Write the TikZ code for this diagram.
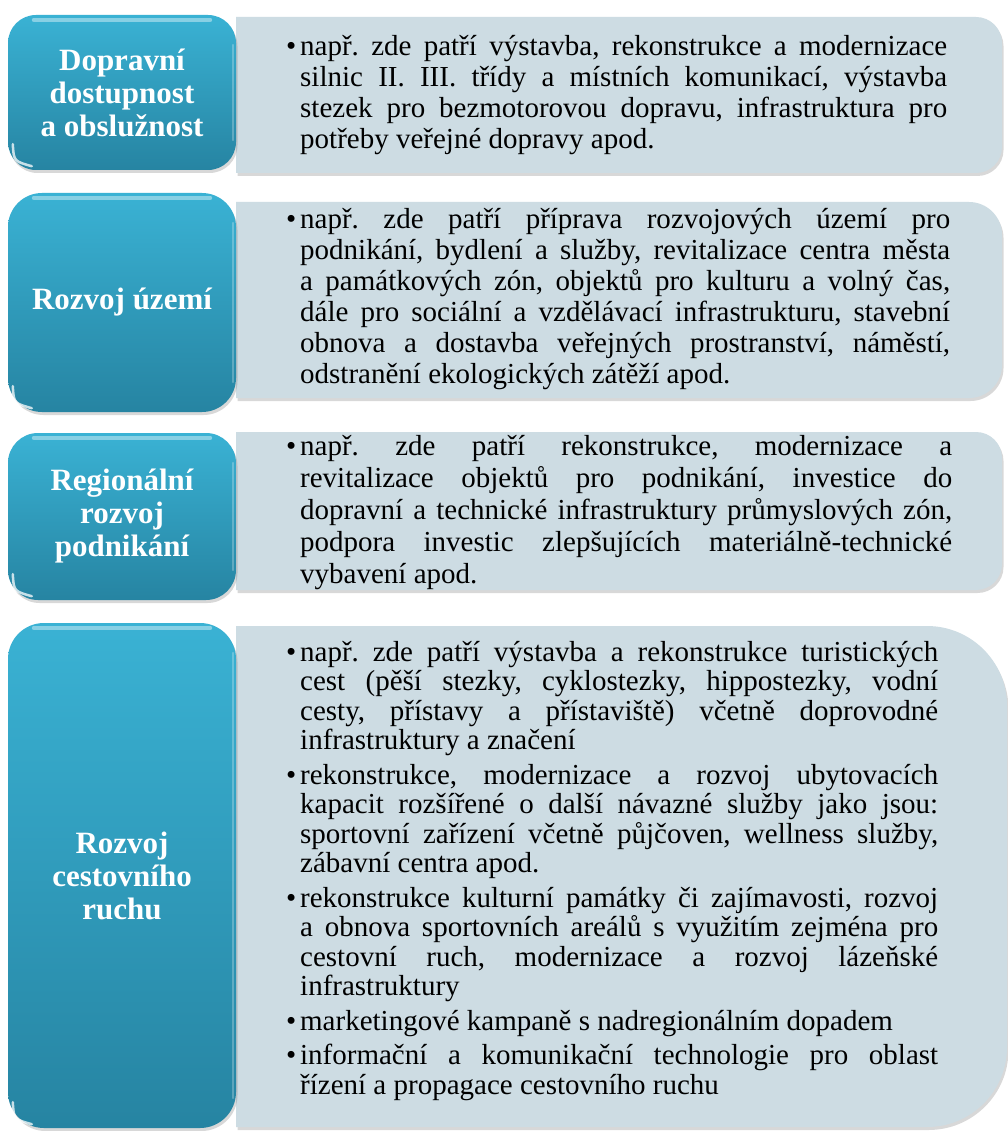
\documentclass[tikz,border=0pt]{standalone}
\usepackage{fontspec}
\setmainfont{Liberation Serif}
\usetikzlibrary{shadows}
\definecolor{tealtop}{RGB}{58,178,212}
\definecolor{tealbot}{RGB}{38,132,162}
\definecolor{panelc}{RGB}{205,220,227}
\newcommand\lb{\linebreak}
\newcommand\bodyset{\frenchspacing\tolerance=10000 \hbadness=10000 \hyphenpenalty=10000 \exhyphenpenalty=10000 \noindent}
\newcommand\bul{\llap{•\hspace{4pt}}}
\newcommand\tealgloss[1]{%
  \draw[gloss] ([xshift=26pt,yshift=-5pt]#1.north west) -- ([xshift=-26pt,yshift=-5pt]#1.north east);
  \draw[gloss, opacity=.25, line width=2pt] ([xshift=-3pt,yshift=-30pt]#1.north east) -- ([xshift=-3pt,yshift=30pt]#1.south east);
  \draw[gloss, opacity=.75, line width=2.5pt] ([xshift=5pt,yshift=26pt]#1.south west) .. controls ([xshift=6pt,yshift=9pt]#1.south west) .. ([xshift=24pt,yshift=4pt]#1.south west);
}
\begin{document}
\begin{tikzpicture}[x=1pt,y=-1pt,
  tealbox/.style={top color=tealtop, bottom color=tealbot, minimum width=228pt, inner sep=0pt,
    text=white, align=center, font=\bfseries\fontsize{31}{33}\selectfont,
    drop shadow={opacity=0.3,shadow xshift=1.5pt,shadow yshift=-3pt}},
  panel/.style={fill=panelc, drop shadow={opacity=0.3,shadow xshift=1.5pt,shadow yshift=-3pt}},
  bodytext/.style={anchor=west, inner sep=0pt, align=justify, font=\fontsize{29}{31}\selectfont},
  gloss/.style={white, opacity=0.4, line width=4pt, line cap=round},
]
\useasboundingbox (0,0) rectangle (1008,1131);
\fill[white] (0,0) rectangle (1008,1131);

% right panels
\path[panel] (236,17) [rounded corners=26pt] -- (1002,17) -- (1002,173) [sharp corners] -- (236,173) -- cycle;
\path[panel] (236,202) [rounded corners=33pt] -- (1002,202) -- (1002,398) [sharp corners] -- (236,398) -- cycle;
\path[panel] (236,432) [rounded corners=26pt] -- (1002,432) -- (1002,590) [sharp corners] -- (236,590) -- cycle;
\path[panel] (236,626) [rounded corners=80pt] -- (1007,626) -- (1007,1127) [sharp corners] -- (236,1127) -- cycle;

% left labels
\node[tealbox, minimum height=155pt, rounded corners=28pt] (t1) at (122,92.5) {Dopravní\\dostupnost\\a obslužnost};
\tealgloss{t1}
\node[tealbox, minimum height=219pt, rounded corners=34pt] (t2) at (122,302.5) {Rozvoj území};
\tealgloss{t2}
\node[tealbox, minimum height=167pt, rounded corners=30pt] (t3) at (122,516.5) {Regionální\\rozvoj\\podnikání};
\tealgloss{t3}
\node[tealbox, minimum height=505pt, rounded corners=36pt] (t4) at (122,875.5) {Rozvoj\\cestovního\\ruchu};
\tealgloss{t4}

% body texts
\node[bodytext, text width=647pt] (b1) at (300,95) {\bodyset\bul
např. zde patří výstavba, rekonstrukce a modernizace\lb
silnic II. III. třídy a místních komunikací, výstavba\lb
stezek pro bezmotorovou dopravu, infrastruktura pro\lb
potřeby veřejné dopravy apod.};

\node[bodytext, text width=650pt] (b2) at (300,299) {\bodyset\bul
např. zde patří příprava rozvojových území pro\lb
podnikání, bydlení a služby, revitalizace centra města\lb
a památkových zón, objektů pro kulturu a volný čas,\lb
dále pro sociální a vzdělávací infrastrukturu, stavební\lb
obnova a dostavba veřejných prostranství, náměstí,\lb
odstranění ekologických zátěží apod.};

\node[bodytext, text width=652pt, font=\fontsize{29}{32}\selectfont] (b3) at (300,513) {\bodyset\bul
např. zde patří rekonstrukce, modernizace a\lb
revitalizace objektů pro podnikání, investice do\lb
dopravní a technické infrastruktury průmyslových zón,\lb
podpora investic zlepšujících materiálně-technické\lb
vybavení apod.};

\node[bodytext, text width=638pt, font=\fontsize{29}{29.5}\selectfont] (b4) at (300,871) {\setlength{\parskip}{5pt}\bodyset\bul
např. zde patří výstavba a rekonstrukce turistických\lb
cest (pěší stezky, cyklostezky, hippostezky, vodní\lb
cesty, přístavy a přístaviště) včetně doprovodné\lb
infrastruktury a značení\par
\bodyset\bul rekonstrukce, modernizace a rozvoj ubytovacích\lb
kapacit rozšířené o další návazné služby jako jsou:\lb
sportovní zařízení včetně půjčoven, wellness služby,\lb
zábavní centra apod.\par
\bodyset\bul rekonstrukce kulturní památky či zajímavosti, rozvoj\lb
a obnova sportovních areálů s využitím zejména pro\lb
cestovní ruch, modernizace a rozvoj lázeňské\lb
infrastruktury\par
\bodyset\bul marketingové kampaně s nadregionálním dopadem\par
\bodyset\bul informační a komunikační technologie pro oblast\lb
řízení a propagace cestovního ruchu};
\end{tikzpicture}
\end{document}
